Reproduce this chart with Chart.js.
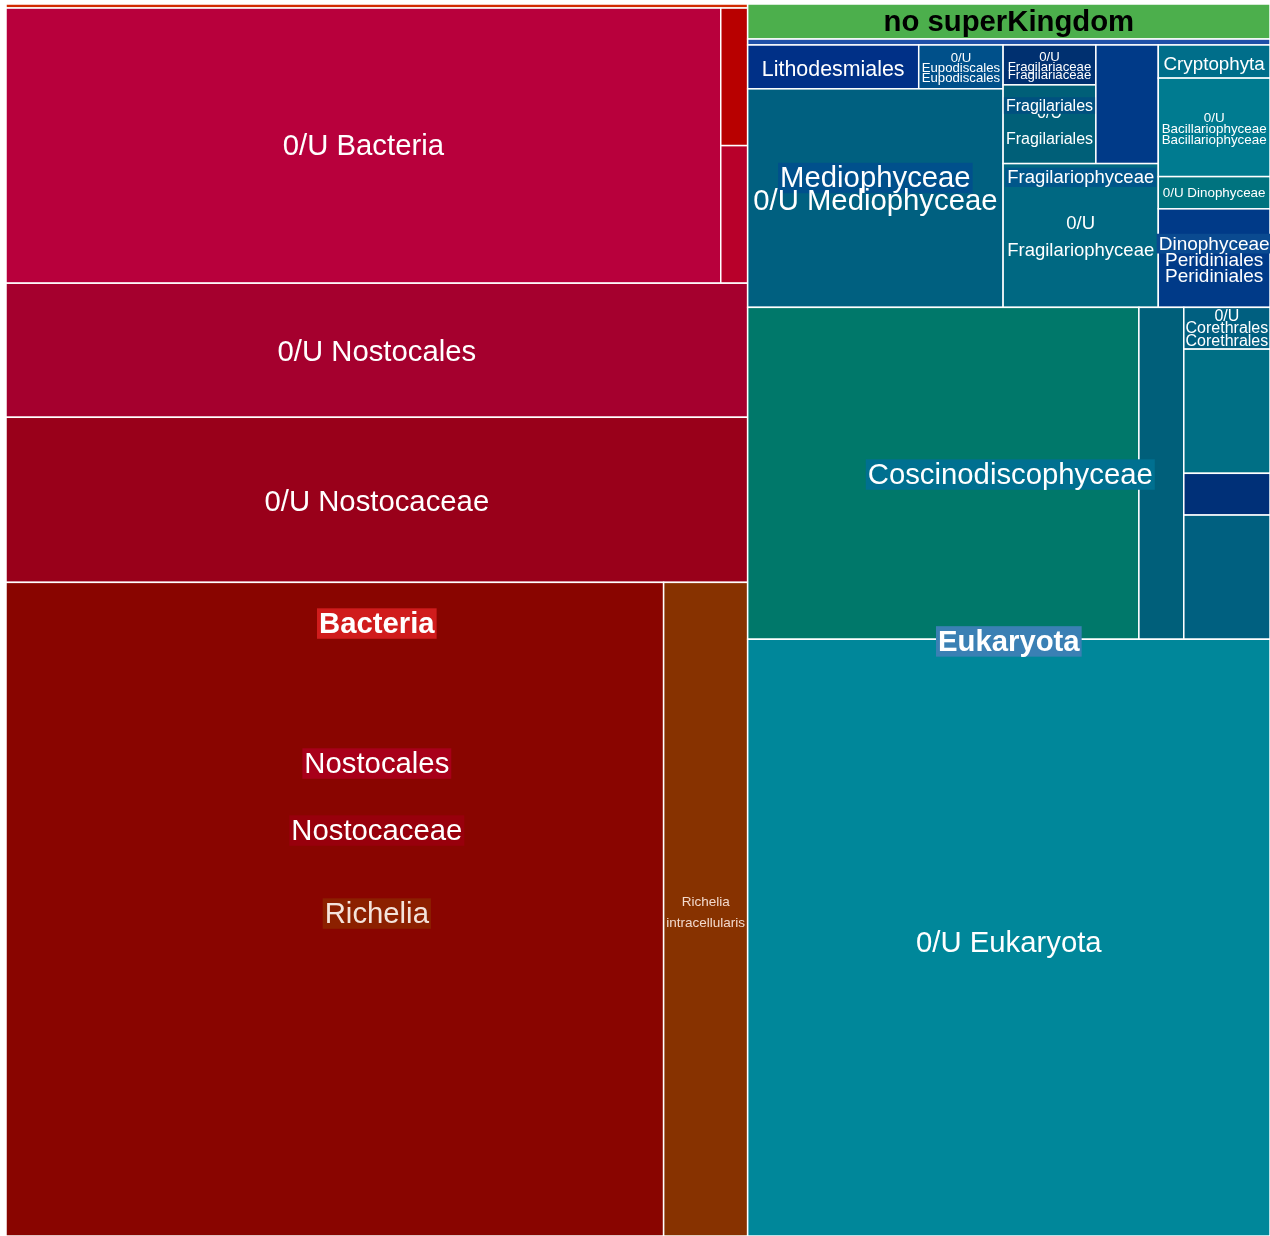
<!DOCTYPE html>
<html>
<head>
<meta charset="utf-8">
<script src="https://cdn.jsdelivr.net/npm/chart.js@4.4.1/dist/chart.umd.min.js"></script>
<style>
  html, body { margin: 0; padding: 0; background: #fff; }
  canvas { display: block; }
</style>
</head>
<body>
<canvas id="treeChart" width="1270" height="1236"></canvas>
<script>
// Taxonomy abundance treemap (arbitrary units)
const cellNames = [
  "Bacteria (other)", "0/U Bacteria", "Bacteria (minor 1)", "Bacteria (minor 2)",
  "0/U Nostocales", "0/U Nostocaceae", "Richelia", "Richelia intracellularis",
  "no superKingdom", "Eukaryota (other)",
  "Lithodesmiales", "0/U Eupodiscales", "0/U Mediophyceae",
  "0/U Fragilariaceae", "0/U Fragilariales", "Fragilariales (other)", "0/U Fragilariophyceae",
  "Cryptophyta", "0/U Bacillariophyceae", "0/U Dinophyceae", "Peridiniales",
  "Coscinodiscophyceae", "Coscinodiscophyceae (other)",
  "0/U Corethrales", "Corethrales (other 1)", "Corethrales (other 2)", "Corethrales (other 3)",
  "0/U Eukaryota"
];
const cellValues = [
  3.0, 196.6, 3.7, 3.7,
  99.4, 122.4, 429.7, 54.9,
  18.3, 3.1,
  7.5, 3.7, 55.8,
  3.7, 7.3, 7.4, 22.3,
  3.7, 11.0, 3.6, 11.0,
  129.8, 14.9,
  3.6, 10.7, 3.6, 10.7,
  311.6
];
const cellColors = [
  "#d22a00", "#b8003c", "#b80000", "#b8002a",
  "#a5002e", "#99001a", "#890500", "#873200",
  "#4caf4c", "#1f50a8",
  "#003087", "#00508a", "#006080",
  "#003070", "#005f78", "#003a88", "#006882",
  "#006e8a", "#007b90", "#00737f", "#003a88",
  "#00786a", "#005f7a",
  "#005f80", "#006f85", "#003078", "#006080",
  "#00879a"
];

// slice-and-dice arrangement: "h" = side by side, "v" = stacked
const arrangement = ["h", [
  ["v", [0, ["h", [1, ["v", [2, 3]]]], 4, 5, ["h", [6, 7]]]],
  ["v", [8, 9,
    ["h", [
      ["v", [["h", [10, 11]], 12]],
      ["v", [["h", [["v", [13, 14]], 15]], 16]],
      ["v", [17, 18, 19, 20]]
    ]],
    ["h", [21, 22, ["v", [23, 24, 25, 26]]]],
    27
  ]]
]];

// labels: [cell, text, dx from centre, dy from top, size, bold, colour, background]
const W = "#ffffff";
const labels = [
  [1, "0/U Bacteria", 0, 137, 29.3],
  [4, "0/U Nostocales", 0, 67, 29.3],
  [5, "0/U Nostocaceae", 0, 83, 29.3],
  [6, "Bacteria", 42, 40, 29.3, true, W, "#d01c1c"],
  [6, "Nostocales", 42, 180, 29.3, false, W, "#a8001a"],
  [6, "Nostocaceae", 42, 247, 29.3, false, W, "#98000c"],
  [6, "Richelia", 42, 330, 29.3, false, "#f4e4dc", "#8c2000"],
  [7, "Richelia", 0, 319, 13.5, false, "#f2d9cc"],
  [7, "intracellularis", 0, 340, 13.5, false, "#f2d9cc"],
  [8, "no superKingdom", 0, 17, 29.3, true, "#000000"],
  [10, "Lithodesmiales", 0, 23, 21.4],
  [11, "0/U", 0, 12, 13.2],
  [11, "Eupodiscales", 0, 32, 13.2],
  [11, "Eupodiscales", 0, 22, 13.2],
  [13, "0/U", 0, 11, 13.2],
  [13, "Fragilariaceae", 0, 29, 13.2],
  [13, "Fragilariaceae", 0, 21, 13.2],
  [14, "0/U", 0, 27, 16],
  [14, "Fragilariales", 0, 20, 16, false, W, "#00507f"],
  [14, "Fragilariales", 0, 53, 16],
  [12, "Mediophyceae", 0, 88, 29.3, false, W, "#00508c"],
  [12, "0/U Mediophyceae", 0, 111, 29.3],
  [16, "Fragilariophyceae", 0, 13, 18.5, false, W, "#00568a"],
  [16, "0/U", 0, 59, 18.5],
  [16, "Fragilariophyceae", 0, 86, 18.5],
  [17, "Cryptophyta", 0, 18, 18.8],
  [18, "0/U", 0, 39, 13.4],
  [18, "Bacillariophyceae", 0, 61, 13.4],
  [18, "Bacillariophyceae", 0, 50, 13.4],
  [19, "0/U Dinophyceae", 0, 16, 13.4],
  [20, "Peridiniales", 0, 66, 19],
  [20, "Dinophyceae", 0, 34, 19, false, W, "#0a4a90"],
  [20, "Peridiniales", 0, 50, 19],
  [23, "0/U", 0, 8, 16],
  [23, "Corethrales", 0, 33, 16],
  [23, "Corethrales", 0, 20, 16],
  [21, "Coscinodiscophyceae", 67, 166, 29.3, false, W, "#007090"],
  [27, "Eukaryota", 0, 1, 29.3, true, W, "#3a80b4"],
  [27, "0/U Eukaryota", 0, 302, 29.3]
];

function nodeSum(node) {
  if (typeof node === "number") return cellValues[node];
  return node[1].reduce((s, c) => s + nodeSum(c), 0);
}

function layoutNode(node, x0, y0, x1, y1, out) {
  if (typeof node === "number") { out[node] = { x0, y0, x1, y1 }; return; }
  const total = nodeSum(node);
  let pos = node[0] === "h" ? x0 : y0;
  node[1].forEach(child => {
    const f = nodeSum(child) / total;
    if (node[0] === "h") {
      const next = pos + f * (x1 - x0);
      layoutNode(child, pos, y0, next, y1, out);
      pos = next;
    } else {
      const next = pos + f * (y1 - y0);
      layoutNode(child, x0, pos, x1, next, out);
      pos = next;
    }
  });
}

const FONT = '"Liberation Sans", Arial, Helvetica, sans-serif';

const treemapPlugin = {
  id: "treemapCells",
  afterDatasetsDraw(chart) {
    const { ctx, chartArea, scales } = chart;
    const rects = [];
    layoutNode(arrangement, 0, 0, 1, 1, rects);
    const px = rects.map(r => ({
      left: scales.x.getPixelForValue(r.x0),
      right: scales.x.getPixelForValue(r.x1),
      top: scales.y.getPixelForValue(r.y0),
      bottom: scales.y.getPixelForValue(r.y1)
    }));
    ctx.save();
    px.forEach((r, i) => {
      ctx.fillStyle = cellColors[i];
      ctx.fillRect(r.left, r.top, r.right - r.left, r.bottom - r.top);
      ctx.strokeStyle = "#ffffff";
      ctx.lineWidth = 1.5;
      ctx.strokeRect(r.left, r.top, r.right - r.left, r.bottom - r.top);
    });
    ctx.beginPath();
    ctx.rect(chartArea.left, chartArea.top, chartArea.right - chartArea.left, chartArea.bottom - chartArea.top);
    ctx.clip();
    ctx.textAlign = "center";
    ctx.textBaseline = "middle";
    labels.forEach(([cell, text, dx, dy, size, bold, color, bg]) => {
      const r = px[cell];
      const x = (r.left + r.right) / 2 + dx;
      const y = r.top + dy + size * 0.08;
      ctx.font = (bold ? "bold " : "") + size + "px " + FONT;
      if (bg) {
        const w = ctx.measureText(text).width;
        ctx.fillStyle = bg;
        ctx.fillRect(x - w / 2 - 2, y - size * 0.56, w + 4, size * 1.04);
      }
      ctx.fillStyle = color || W;
      ctx.fillText(text, x, y);
    });
    ctx.restore();
  }
};

new Chart(document.getElementById("treeChart"), {
  type: "scatter",
  data: { datasets: [{ data: [], pointRadius: 0 }] },
  options: {
    responsive: false,
    animation: false,
    layout: { padding: { left: 6, top: 4, right: 0, bottom: 0 } },
    scales: {
      x: { type: "linear", min: 0, max: 1, display: false },
      y: { type: "linear", min: 0, max: 1, reverse: true, display: false }
    },
    plugins: {
      legend: { display: false },
      tooltip: { enabled: false }
    }
  },
  plugins: [treemapPlugin]
});
</script>
</body>
</html>
